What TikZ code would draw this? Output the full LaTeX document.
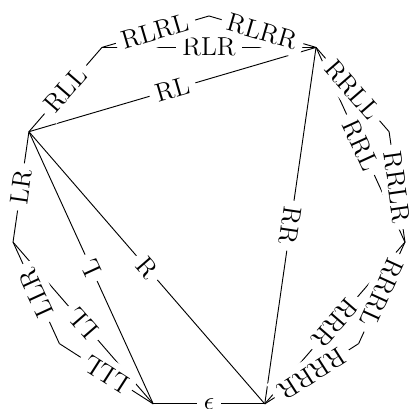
\documentclass[tikz,border=0pt]{standalone}
\begin{document}
\begin{tikzpicture}[font=\fontsize{11.2}{13.5}\selectfont]
\useasboundingbox (-3.167,-2.955) rectangle (3.091,3.242);
\tikzset{lab/.style={midway, sloped, allow upside down, fill=white, inner sep=2.8pt}}
\foreach \n/\a in {F/90, G/122.727, H/155.455, I/188.182, J/220.909, A/253.636, B/286.364, K/319.091, C/351.818, D/24.545, E/57.273}
  \coordinate (\n) at (\a:3);
% root
\draw (A) -- node[lab] (e) {$\epsilon$} (B);
% left subtree
\draw (A) -- node[lab] (l) {L} (H);
\draw (A) -- node[lab] (ll) {LL} (I);
\draw (I) -- node[lab] (lr) {LR} (H);
\draw (A) -- node[lab] (lll) {LLL} (J);
\draw (J) -- node[lab] (llr) {LLR} (I);
% right subtree
\draw (H) -- node[lab] (r) {R} (B);
\draw (H) -- node[lab] (rl) {RL} (E);
\draw (E) -- node[lab] (rr) {RR} (B);
\draw (H) -- node[lab] (rll) {RLL} (G);
\draw (G) -- node[lab] (rlr) {RLR} (E);
\draw (G) -- node[lab] (rlrl) {RLRL} (F);
\draw (F) -- node[lab] (rlrr) {RLRR} (E);
\draw (E) -- node[lab] (rrl) {RRL} (C);
\draw (C) -- node[lab] (rrr) {RRR} (B);
\draw (E) -- node[lab] (rrll) {RRLL} (D);
\draw (D) -- node[lab] (rrlr) {RRLR} (C);
\draw (C) -- node[lab] (rrrl) {RRRL} (K);
\draw (K) -- node[lab] (rrrr) {RRRR} (B);
\end{tikzpicture}
\end{document}
